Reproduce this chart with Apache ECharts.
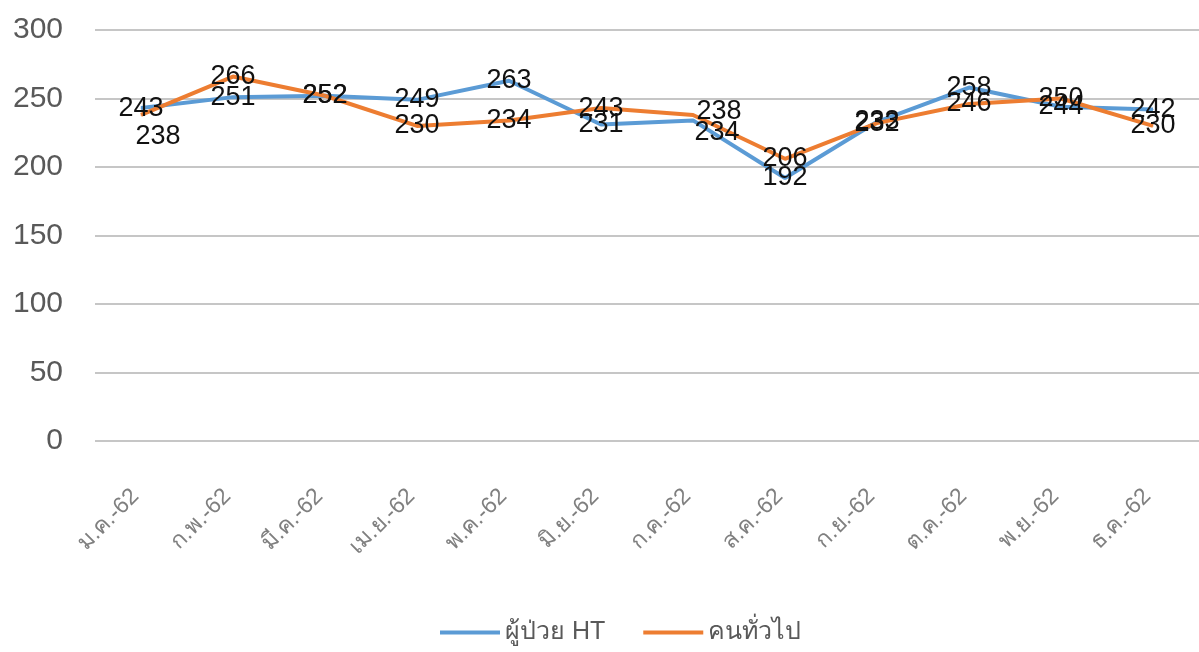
<!DOCTYPE html>
<html>
<head>
<meta charset="utf-8">
<script src="https://cdn.jsdelivr.net/npm/echarts@6/dist/echarts.min.js"></script>
<style>
  html, body { margin: 0; padding: 0; background: #ffffff; }
  #chart { width: 1199px; height: 652px; }
</style>
</head>
<body>
<div id="chart"></div>
<script>
// Monthly figures, 2562 B.E.
const months = ['ม.ค.-62', 'ก.พ.-62', 'มี.ค.-62', 'เม.ย.-62', 'พ.ค.-62', 'มิ.ย.-62',
                'ก.ค.-62', 'ส.ค.-62', 'ก.ย.-62', 'ต.ค.-62', 'พ.ย.-62', 'ธ.ค.-62'];
const htPatients = [243, 251, 252, 249, 263, 231, 234, 192, 233, 258, 244, 242];
const generalPublic = [238, 266, 252, 230, 234, 243, 238, 206, 232, 246, 250, 230];
const yTicks = [0, 50, 100, 150, 200, 250, 300];

const FONT = '"Liberation Sans", "Noto Sans", sans-serif';

// labels of months where both lines nearly meet are pushed apart (dx, dy by month index)
const htLabelShift = { 6: [24, 12] };
const generalLabelShift = { 0: [17, 22], 6: [26, -3] };

function lineSeries(name, values, color, shifts) {
  return {
    name: name,
    type: 'line',
    data: values,
    symbol: 'circle',
    symbolSize: 1,
    showSymbol: true,
    lineStyle: { color: color, width: 4 },
    itemStyle: { color: color },
    emphasis: { disabled: true },
    labelLayout: function (params) {
      const s = shifts[params.dataIndex];
      return s ? { dx: s[0], dy: s[1], hideOverlap: false } : { hideOverlap: false };
    },
    label: {
      show: true,
      position: 'inside',
      offset: [1, 2],
      fontFamily: FONT,
      fontSize: 27,
      color: '#111111'
    }
  };
}

const chart = echarts.init(document.getElementById('chart'), null, { renderer: 'canvas' });
chart.setOption({
  animation: false,
  backgroundColor: '#ffffff',
  grid: { left: 95, right: -3, top: 30, bottom: 211, containLabel: false },
  legend: {
    bottom: 2,
    left: 435,
    itemWidth: 60,
    itemHeight: 4,
    itemGap: 38,
    icon: 'rect',
    textStyle: { fontFamily: FONT, fontSize: 25, color: '#595959' },
    data: ['ผู้ป่วย HT', 'คนทั่วไป']
  },
  xAxis: {
    type: 'category',
    data: months,
    boundaryGap: true,
    axisLine: { show: false },
    axisTick: { show: false },
    axisLabel: {
      rotate: 45,
      margin: 46,
      padding: [0, 8, 0, 0],
      fontFamily: FONT,
      fontSize: 23,
      color: '#7f7f7f'
    }
  },
  yAxis: {
    type: 'value',
    min: yTicks[0],
    max: yTicks[yTicks.length - 1],
    interval: 50,
    axisLine: { show: false },
    axisTick: { show: false },
    splitLine: { lineStyle: { color: '#c6c6c6', width: 2 } },
    axisLabel: {
      margin: 32,
      fontFamily: FONT,
      fontSize: 30,
      color: '#595959'
    }
  },
  series: [
    lineSeries('ผู้ป่วย HT', htPatients, '#5B9BD5', htLabelShift),
    lineSeries('คนทั่วไป', generalPublic, '#ED7D31', generalLabelShift)
  ]
});
</script>
</body>
</html>
